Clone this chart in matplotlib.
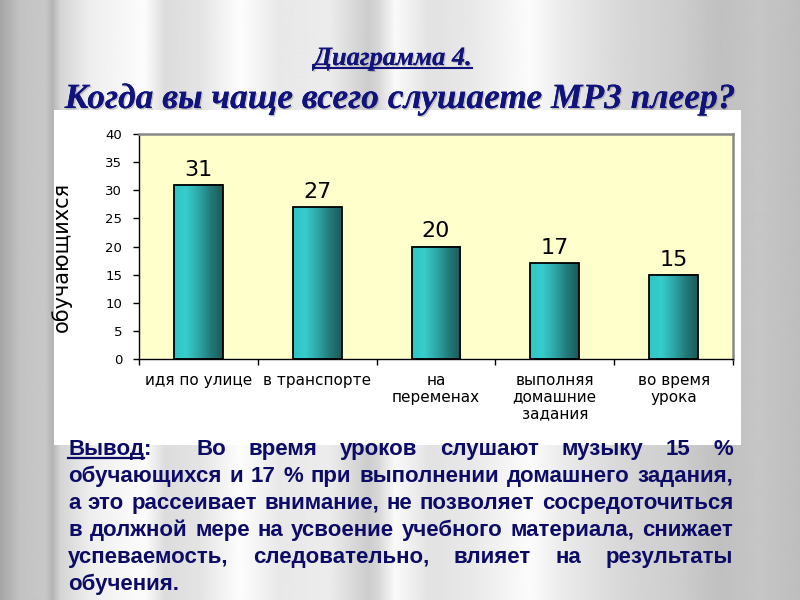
import matplotlib
matplotlib.use("Agg")
import matplotlib.pyplot as plt
import numpy as np
from matplotlib.patches import Rectangle
from matplotlib.colors import LinearSegmentedColormap
import matplotlib.patheffects as pe

# ---------------- data ----------------
categories = ["идя по улице", "в транспорте", "на\nпеременах",
              "выполняя\nдомашние\nзадания", "во время\nурока"]
values = [31, 27, 20, 17, 15]
yticks = [0, 5, 10, 15, 20, 25, 30, 35, 40]
ylabel = "обучающихся"
title1 = "Диаграмма 4."
title2 = "Когда вы чаще всего слушаете MP3 плеер?"
conclusion_lines = [
    "Вывод:\tВо время уроков слушают музыку 15 %",
    "обучающихся и 17 % при выполнении домашнего задания,",
    "а это рассеивает внимание, не позволяет сосредоточиться",
    "в должной мере на усвоение учебного материала, снижает",
    "успеваемость, следовательно, влияет на результаты",
    "обучения.",
]

W, H = 800, 600
fig = plt.figure(figsize=(8, 6), dpi=100)

def fx(px):
    return px / W

def fy(py):
    return 1 - py / H

# ---------------- background (slide) ----------------
bg = fig.add_axes([0, 0, 1, 1], zorder=-10)
sx = [0, 20, 45, 52, 60, 90, 145, 165, 200, 240, 280, 330, 368, 378, 395, 430,
      470, 530, 560, 620, 680, 720, 760, 799]
sv = [165, 195, 200, 180, 212, 238, 252, 220, 228, 253, 232, 236, 205, 215, 250,
      226, 232, 252, 236, 216, 205, 192, 198, 190]
xs = np.arange(W)
vals = np.interp(xs, sx, sv) / 255.0
bg.imshow(np.tile(vals, (2, 1)), cmap="gray", vmin=0, vmax=1, aspect="auto",
          extent=[0, W, H, 0], interpolation="bilinear")
bg.set_xlim(0, W)
bg.set_ylim(H, 0)
bg.axis("off")

# white chart box
box = Rectangle((54, 110), 687, 335, facecolor="white", edgecolor="none", zorder=1)
bg.add_patch(box)

# y label, clipped by the chart box
yl = bg.text(72, 257, ylabel, rotation=90, ha="right", va="center", fontsize=15,
             family="DejaVu Sans", color="black", zorder=2)
yl.set_clip_path(box)

# ---------------- chart axes ----------------
ax = fig.add_axes([fx(139), fy(359), 594 / W, 225 / H], zorder=0)
ax.set_facecolor("#ffffcc")
x = np.arange(len(values))
bars = ax.bar(x, values, width=0.41, facecolor="none", edgecolor="black",
              linewidth=1.3, zorder=3)
cmap = LinearSegmentedColormap.from_list(
    "teal", ["#30c6c6", "#38cccc", "#2ea8a8", "#237a7a", "#1b5a5a"])
grad = np.linspace(0, 1, 256).reshape(1, -1)
for b in bars:
    x0, w, h = b.get_x(), b.get_width(), b.get_height()
    ax.imshow(grad, cmap=cmap, aspect="auto", extent=[x0, x0 + w, 0, h], zorder=2)
for xi, v in zip(x, values):
    ax.annotate(str(v), (xi, v), xytext=(0, 6.5), textcoords="offset points",
                ha="center", va="baseline", fontsize=16, family="DejaVu Sans")

ax.set_xlim(-0.5, len(values) - 0.5)
ax.set_ylim(0, 40)
ax.set_yticks(yticks)
ax.set_yticklabels([str(t) for t in yticks], fontsize=9.5, family="DejaVu Sans")
ax.tick_params(axis="y", direction="out", length=4, width=1, pad=8)
ax.set_xticks(np.arange(-0.5, len(values), 1.0))
ax.set_xticklabels([])
ax.tick_params(axis="x", which="major", direction="out", length=4, width=1)
ax.set_xticks(x, minor=True)
ax.set_xticklabels(categories, minor=True, fontsize=11, family="DejaVu Sans",
                   linespacing=1.15)
ax.tick_params(axis="x", which="minor", length=0, pad=10)
ax.spines["left"].set_color("black")
ax.spines["bottom"].set_color("black")
ax.spines["left"].set_linewidth(1)
ax.spines["bottom"].set_linewidth(1)
ax.spines["top"].set_color("#888888")
ax.spines["right"].set_color("#888888")
ax.spines["top"].set_linewidth(1.8)
ax.spines["right"].set_linewidth(1.8)

# ---------------- titles ----------------
title_color = "#11137c"
shadow = [pe.withSimplePatchShadow(offset=(1.0, -1.0), shadow_rgbFace="#888888", alpha=0.45),
          pe.Normal()]
t1 = bg.text(393, 65, title1, ha="center", va="baseline", fontsize=19,
             family="Liberation Serif", weight="bold", style="italic",
             color=title_color, zorder=5, path_effects=shadow)
t2 = bg.text(400, 108, title2, ha="center", va="baseline", fontsize=25.5,
             family="Liberation Serif", weight="bold", style="italic",
             color=title_color, zorder=5, path_effects=shadow)

fig.canvas.draw()
renderer = fig.canvas.get_renderer()

# underline title1
e = t1.get_window_extent(renderer)
bg.plot([e.x0, e.x1], [68, 68], color=title_color, lw=1.5, zorder=5)

# ---------------- conclusion (justified) ----------------
body_color = "#0c0c66"
LEFT, RIGHT = 68, 733
baselines = [455, 482, 509, 536, 563, 590]

def word_width(word, size):
    t = bg.text(0, 0, word, fontsize=size, family="Liberation Sans", weight="bold")
    wdt = t.get_window_extent(renderer).width
    t.remove()
    return wdt

fs = 16.0
space = word_width("a a", fs) - word_width("aa", fs)
maxw = 0
for ln in conclusion_lines[1:5]:
    words = ln.split()
    wsum = sum(word_width(wd, fs) for wd in words) + space * (len(words) - 1)
    maxw = max(maxw, wsum)
if maxw > (RIGHT - LEFT):
    fs = fs * (RIGHT - LEFT) / maxw * 0.985

for i, (ln, yb) in enumerate(zip(conclusion_lines, baselines)):
    last = i == len(conclusion_lines) - 1
    parts = ln.split("\t")
    words = []
    weights = []
    for pi, part in enumerate(parts):
        ws = part.split()
        for wi, wd in enumerate(ws):
            words.append(wd)
            if wi == 0 and pi > 0:
                weights.append(2.0)
            else:
                weights.append(1.0)
    widths = [word_width(wd, fs) for wd in words]
    if last or len(words) == 1:
        sp = word_width("a a", fs) - word_width("aa", fs)
        gaps = [sp] * len(words)
    else:
        total_gap = (RIGHT - LEFT) - sum(widths)
        wsum = sum(weights[1:])
        gaps = [0] + [total_gap * wt / wsum for wt in weights[1:]]
    xpos = LEFT
    for j, (wd, wdt) in enumerate(zip(words, widths)):
        if j > 0:
            xpos += gaps[j]
        if wd.startswith("Вывод"):
            bg.text(xpos, yb, "Вывод", ha="left", va="baseline", fontsize=fs,
                    family="Liberation Sans", weight="bold", color=body_color, zorder=5)
            uw = word_width("Вывод", fs)
            bg.plot([xpos, xpos + uw], [yb + 3, yb + 3], color=body_color, lw=1.6, zorder=5)
            bg.text(xpos + uw, yb, wd[len("Вывод"):], ha="left", va="baseline",
                    fontsize=fs, family="Liberation Sans", weight="bold",
                    color=body_color, zorder=5)
        else:
            bg.text(xpos, yb, wd, ha="left", va="baseline", fontsize=fs,
                    family="Liberation Sans", weight="bold", color=body_color, zorder=5)
        xpos += wdt

fig.savefig("out.png", dpi=100)
